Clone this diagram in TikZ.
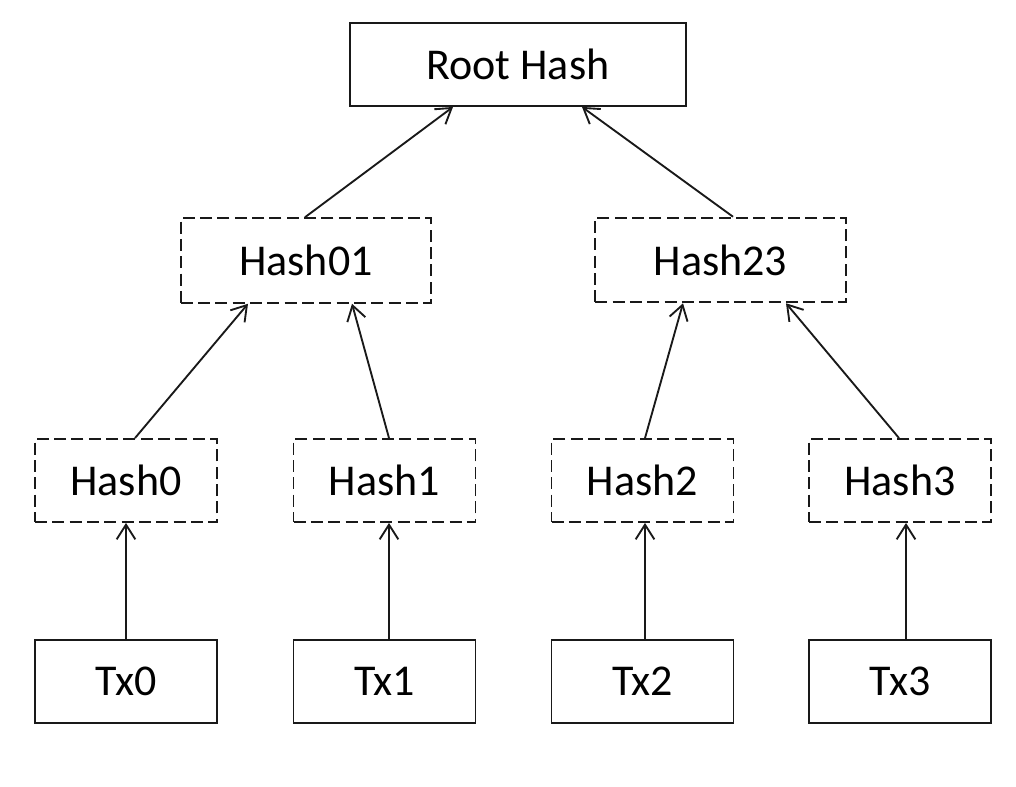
\documentclass[tikz,border=0pt]{standalone}
\usepackage{fontspec}
\setmainfont{Carlito}
\usetikzlibrary{arrows.meta,calc}
\begin{document}
\begin{tikzpicture}[x=0.75pt,y=-0.75pt,
  box/.style={draw=black!90, line width=1.4pt, inner sep=0pt, text=black,
    font=\fontsize{33}{40}\selectfont},
  solidbox/.style={box},
  dashbox/.style={box, dash pattern=on 9pt off 4pt},
  arr/.style={draw=black!90, line width=1.4pt, -{Straight Barb[length=11pt,width=14pt,line width=1.4pt]}},
  smallw/.style={minimum width=136.5pt, minimum height=62.25pt},
  midw/.style={minimum width=188pt, minimum height=63.5pt},
]
\useasboundingbox (0,0) rectangle (1016,786);

\node[solidbox, minimum width=252pt, minimum height=62.25pt] (root) at (518,64.5) {Root Hash};

\node[dashbox, midw] (h01) at (306,260.5) {Hash01};
\node[dashbox, midw] (h23) at (720.5,260) {Hash23};

\node[dashbox, smallw] (h0) at (126,480.5) {Hash0};
\node[dashbox, smallw] (h1) at (384.5,480.5) {Hash1};
\node[dashbox, smallw] (h2) at (642.5,480.5) {Hash2};
\node[dashbox, smallw] (h3) at (900,480.5) {Hash3};

\node[solidbox, smallw] (t0) at (126,681.5) {Tx0};
\node[solidbox, smallw] (t1) at (384.5,681.5) {Tx1};
\node[solidbox, smallw] (t2) at (642.5,681.5) {Tx2};
\node[solidbox, smallw] (t3) at (900,681.5) {Tx3};

\draw[arr] (t0.north) -- (h0.south);
\draw[arr] ($(t1.north)+(4.5,0)$) -- ($(h1.south)+(4.5,0)$);
\draw[arr] ($(t2.north)+(2.5,0)$) -- ($(h2.south)+(2.5,0)$);
\draw[arr] ($(t3.north)+(6,0)$) -- ($(h3.south)+(6,0)$);

\draw[arr] ($(h0.north)+(9,0)$) -- ($(h01.south)+(-58,0)$);
\draw[arr] ($(h1.north)+(4.5,0)$) -- ($(h01.south)+(46,0)$);
\draw[arr] ($(h2.north)+(2.5,0)$) -- ($(h23.south)+(-37.5,0)$);
\draw[arr] ($(h3.north)+(-1,0)$) -- ($(h23.south)+(65.5,0)$);

\draw[arr] ($(h01.north)+(-1,0)$) -- ($(root.south)+(-65,0)$);
\draw[arr] ($(h23.north)+(12.5,0)$) -- ($(root.south)+(64,0)$);
\end{tikzpicture}
\end{document}
